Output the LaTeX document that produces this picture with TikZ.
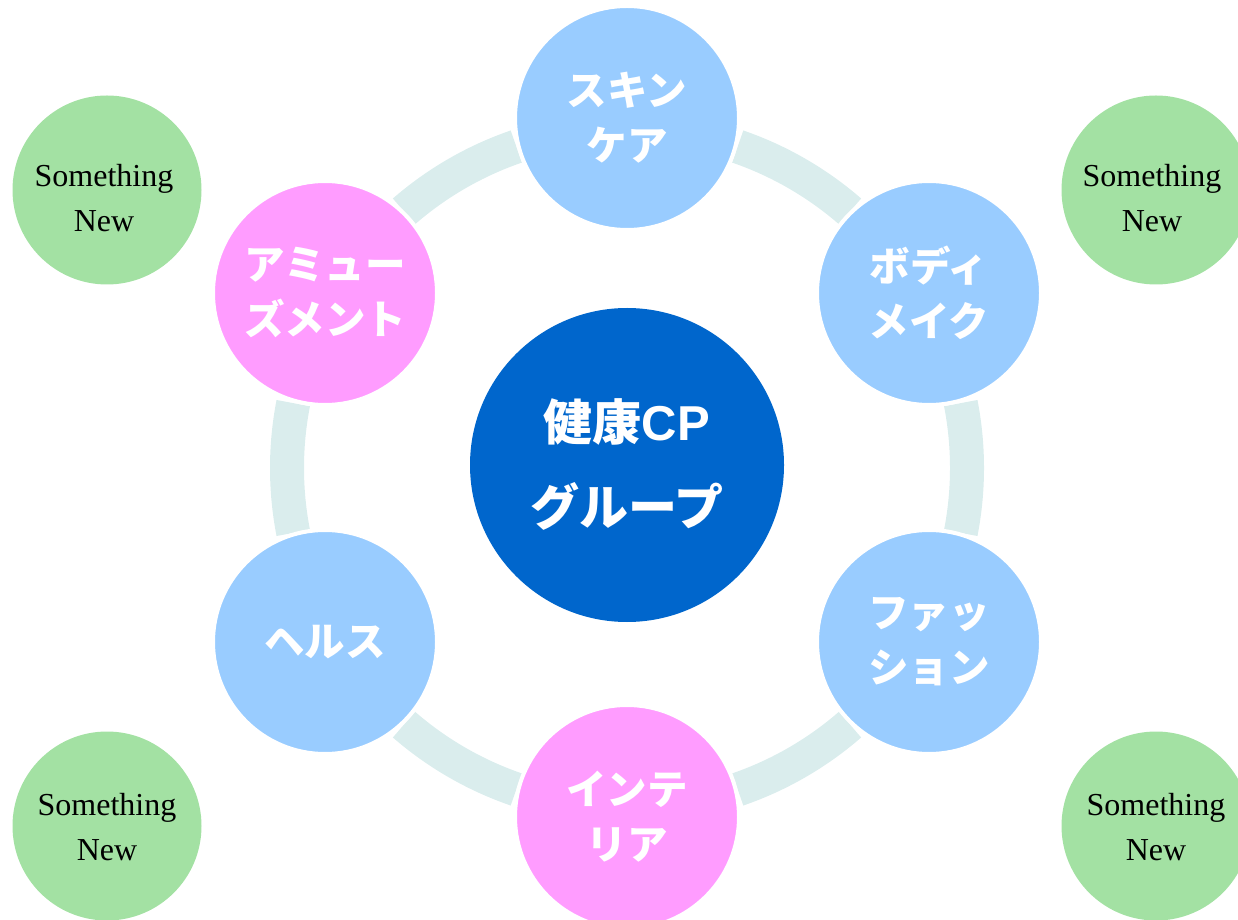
\documentclass[tikz,border=0pt]{standalone}
\usepackage{fontspec}
\setmainfont{Liberation Serif}
\newfontfamily\jp{Noto Sans CJK JP}
\newfontfamily\lsans{Liberation Sans}
\definecolor{ringc}{HTML}{DAEDED}
\definecolor{lblue}{HTML}{99CCFF}
\definecolor{lpink}{HTML}{FF9CFF}
\definecolor{cblue}{HTML}{0066CC}
\definecolor{lgreen}{HTML}{A3E1A3}
\tikzset{
  ringseg/.style={draw=ringc, line width=34pt},
  outer/.style={circle, minimum size=224pt, inner sep=0pt, draw=white, line width=4pt,
    text=white, align=center, font=\jp\bfseries\fontsize{40.5}{55}\selectfont},
  bluec/.style={outer, fill=lblue},
  pinkc/.style={outer, fill=lpink},
  centerc/.style={circle, minimum size=314pt, inner sep=0pt, fill=cblue,
    text=white, align=center, font=\jp\bfseries\fontsize{49}{85}\selectfont},
  greenc/.style={circle, minimum size=189pt, inner sep=0pt, fill=lgreen},
  greent/.style={align=center, text=black, font=\fontsize{32}{45}\selectfont}
}
\begin{document}
\begin{tikzpicture}[x=1pt,y=1pt]
\path[use as bounding box] (0,0) rectangle (1238,919);
\clip (0,0) rectangle (1238,919);
\coordinate (C) at (627,451);
% ring segments
\foreach \a in {30,90,150,210,270,330}{
  \draw[ringseg] ([shift={(\a+19:340pt)}]C) arc[start angle=\a+19, end angle=\a+41, radius=340pt];
}
% green circles
\node[greenc] (g1) at (107,729) {};
\node[greenc] (g2) at (1156,729) {};
\node[greenc] (g3) at (107,93) {};
\node[greenc] (g4) at (1156,93) {};
\node[greent] (t1) at (104,721) {Something\\New};
\node[greent] (t2) at (1152,721) {Something\\New};
\node[greent] (t3) at (107,92) {Something\\New};
\node[greent] (t4) at (1156,92) {Something\\New};
% outer circles
\node[bluec] (skin) at (627,801) {スキン\\ケア};
\node[bluec] (body) at (929,626) {ボディ\\メイク};
\node[bluec] (fash) at (929,277) {ファッ\\ション};
\node[pinkc] (inter) at (627,102) {インテ\\リア};
\node[bluec] (health) at (325,277) {ヘルス};
\node[pinkc] (amuse) at (325,626) {アミュー\\ズメント};
% center
\node[centerc] (center) at (627,454) {健康{\lsans\bfseries CP}\\グループ};
\end{tikzpicture}
\end{document}
